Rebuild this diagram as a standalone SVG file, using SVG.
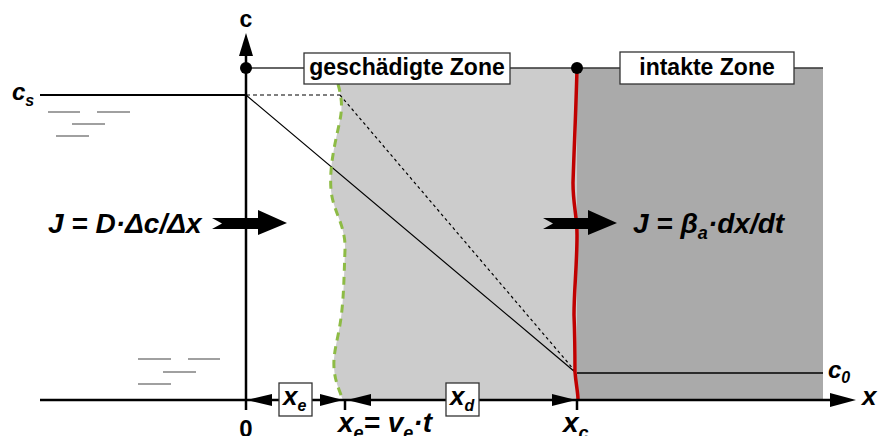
<svg xmlns="http://www.w3.org/2000/svg" width="879" height="436" viewBox="0 0 879 436">
<style>
text{font-family:"Liberation Sans",Arial,sans-serif;font-weight:bold;fill:#000}
.it{font-style:italic}
.box{fill:#fff;stroke:#333;stroke-width:1.3}
.water{stroke:#808080;stroke-width:1.5}
.axis{stroke:#000;stroke-width:2.5;fill:none}
</style>
<defs>
<marker id="ah" markerWidth="10" markerHeight="10" refX="0" refY="0" orient="auto" markerUnits="userSpaceOnUse" overflow="visible">
<path d="M0,0 L-24,-6 L-24,6 Z" fill="#000"/>
</marker>
</defs>
<g id="zones">
<path d="M336,68 L338,84 C341,95 343,105 340,120 C336,140 329,165 331,190 C333,212 346,225 345,250 C344,275 344,295 341,318 C338,340 333,352 334,368 C335,382 340,392 343,400 L823,400 L823,68 Z" fill="#cccccc"/>
<rect x="577" y="68" width="246" height="332" fill="#aaaaaa"/>
<line x1="246" y1="68" x2="823" y2="68" stroke="#333" stroke-width="1.3"/>
</g>
<g id="water">
<line class="water" x1="48" y1="112" x2="80" y2="112"/>
<line class="water" x1="97" y1="112" x2="130" y2="112"/>
<line class="water" x1="72" y1="124" x2="105" y2="124"/>
<line class="water" x1="56" y1="136" x2="89" y2="136"/>
<line class="water" x1="138" y1="359" x2="171" y2="359"/>
<line class="water" x1="188" y1="359" x2="220" y2="359"/>
<line class="water" x1="163" y1="372" x2="196" y2="372"/>
<line class="water" x1="138" y1="384" x2="171" y2="384"/>
</g>
<g id="connectors">
<line x1="40" y1="95" x2="246" y2="95" stroke="#000" stroke-width="1.8"/>
<line x1="246" y1="95" x2="340" y2="95" stroke="#000" stroke-width="1.2" stroke-dasharray="4 3"/>
<line x1="340" y1="95" x2="575" y2="371" stroke="#000" stroke-width="1.2" stroke-dasharray="3 3"/>
<line x1="246" y1="95" x2="575" y2="372" stroke="#000" stroke-width="1.2"/>
<line x1="577" y1="373" x2="823" y2="373" stroke="#000" stroke-width="1.5"/>
<path d="M338,84 C341,95 343,105 340,120 C336,140 329,165 331,190 C333,212 346,225 345,250 C344,275 344,295 341,318 C338,340 333,352 334,368 C335,382 340,392 343,400" fill="none" stroke="#8dbb45" stroke-width="3" stroke-dasharray="8 6"/>
<path d="M577,68 C576,110 574,150 573,183 C573,205 577,215 577,235 C577,265 574,290 574,315 C575,340 575,360 575,372 C576,385 578,392 578,400" fill="none" stroke="#c00000" stroke-width="3.5"/>
</g>
<g id="axes">
<line class="axis" x1="246" y1="410" x2="246" y2="50"/>
<path d="M246,33 L239,56 L253,56 Z" fill="#000"/>
<line class="axis" x1="40" y1="400" x2="835" y2="400"/>
<path d="M856,400 L830,393 L830,407 Z" fill="#000"/>
<line class="axis" x1="345" y1="400" x2="345" y2="410"/>
<line class="axis" x1="577" y1="400" x2="577" y2="410"/>
<circle cx="246" cy="68" r="6" fill="#000"/>
<circle cx="577" cy="68" r="6" fill="#000"/>
<path d="M247,400 L272,394 L272,406 Z" fill="#000"/>
<path d="M343,400 L320,394 L320,406 Z" fill="#000"/>
<path d="M347,400 L371,394 L371,406 Z" fill="#000"/>
<path d="M576,400 L552,394 L552,406 Z" fill="#000"/>
</g>
<g id="flux-left">
<path d="M212,218 L258,218 L258,210 L287,223 L258,235 L258,229 L212,229 L222,223.5 Z" fill="#000"/>
<text class="it" x="48" y="233" font-size="28">J = D·Δc/Δx</text>
</g>
<g id="flux-right">
<path d="M543,218 L588,218 L588,210 L617,223 L588,235 L588,229 L543,229 L553,223.5 Z" fill="#000"/>
<text class="it" x="633" y="233" font-size="28">J = β<tspan font-size="18" dy="6">a</tspan><tspan dy="-6">·dx/dt</tspan></text>
</g>
<g id="zone-damaged">
<rect class="box" x="304" y="53" width="206" height="31"/>
<text x="407" y="75" font-size="23" text-anchor="middle">geschädigte Zone</text>
</g>
<g id="zone-intact">
<rect class="box" x="620" y="52" width="174" height="32"/>
<text x="707" y="75" font-size="23" text-anchor="middle">intakte Zone</text>
</g>
<g id="box-xe">
<rect class="box" x="279" y="383" width="33" height="33"/>
<text class="it" x="283" y="405" font-size="26">x<tspan font-size="16" dy="6">e</tspan></text>
</g>
<g id="box-xd">
<rect class="box" x="446" y="383" width="33" height="33"/>
<text class="it" x="450" y="405" font-size="26">x<tspan font-size="16" dy="6">d</tspan></text>
</g>
<g id="labels">
<text x="246" y="27" font-size="23" text-anchor="middle">c</text>
<text class="it" x="12" y="100" font-size="24">c<tspan font-size="16" dy="6">s</tspan></text>
<text class="it" x="828" y="378" font-size="24">c<tspan font-size="16" dy="5">0</tspan></text>
<text class="it" x="862" y="405" font-size="26">x</text>
<text x="246" y="437" font-size="24" text-anchor="middle">0</text>
<text class="it" x="338" y="432" font-size="28">x<tspan font-size="18" dy="7">e</tspan><tspan dy="-7">= v</tspan><tspan font-size="18" dy="7">e</tspan><tspan dy="-7">·t</tspan></text>
<text class="it" x="563" y="432" font-size="28">x<tspan font-size="18" dy="7">c</tspan></text>
</g>
</svg>
